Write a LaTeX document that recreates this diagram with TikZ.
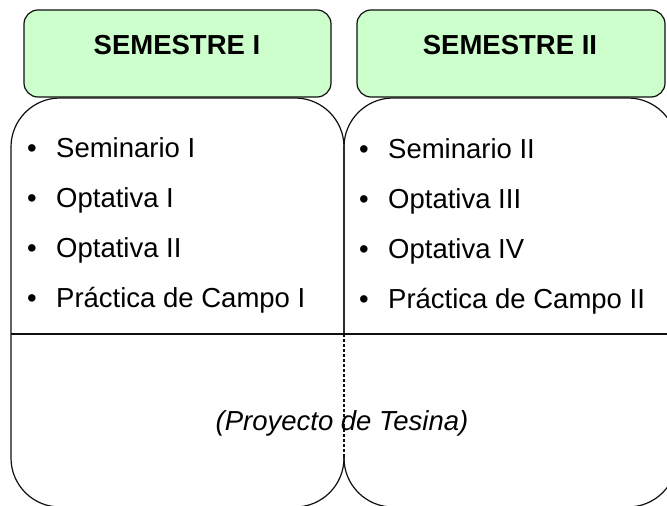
\documentclass[tikz,border=0pt]{standalone}
\usepackage{fontspec}
\setmainfont{Liberation Sans}
\definecolor{hdrgreen}{RGB}{204,255,204}
\definecolor{edge}{RGB}{15,15,15}
\tikzset{
  hdr/.style={draw=edge, fill=hdrgreen, line width=1.2pt, rounded corners=14pt},
  hdrtext/.style={font=\fontsize{27.5}{30}\selectfont\bfseries, inner sep=0pt, anchor=base},
  boxline/.style={draw=edge, line width=1.2pt, rounded corners=49pt},
  bul/.style={font=\fontsize{27.5}{30}\selectfont, inner sep=0pt, anchor=base},
  item/.style={font=\fontsize{27.5}{30}\selectfont, inner sep=0pt, anchor=base west},
  proj/.style={font=\fontsize{27.5}{30}\selectfont\itshape, inner sep=0pt, anchor=base},
}
\begin{document}
\begin{tikzpicture}[x=1pt,y=-1pt]
\useasboundingbox (0,0) rectangle (667,506);
\begin{scope}
\clip (0,0) rectangle (667,506);
% big boxes
\draw[boxline] (344,334) -- (344,98) -- (11,98) -- (11,507) -- (344,507) -- (344,455);
\draw[boxline] (344,334) -- (344,98) -- (677,98) -- (677,507) -- (344,507) -- (344,455);
\draw[draw=edge, line width=1.1pt, dash pattern=on 3pt off 2pt] (344,334) -- (344,458);
\draw[draw=edge, line width=2pt] (11,334) -- (667,334);
\end{scope}
% headers
\path[hdr] (24,10) rectangle (331,97);
\path[hdr] (357,10) rectangle (665,97);
\node[hdrtext] (h1) at (177,54) {SEMESTRE I};
\node[hdrtext] (h2) at (510,54) {SEMESTRE II};
% left column
\node[bul] (b11) at (32,157) {•};
\node[item] (s1) at (56,157) {Seminario I};
\node[bul] (b12) at (32,207) {•};
\node[item] (o1) at (56,207) {Optativa I};
\node[bul] (b13) at (32,257) {•};
\node[item] (o2) at (56,257) {Optativa II};
\node[bul] (b14) at (32,307) {•};
\node[item] (p1) at (56,307) {Práctica de Campo I};
% right column
\node[bul] (b21) at (364,158) {•};
\node[item] (s2) at (388,158) {Seminario II};
\node[bul] (b22) at (364,208) {•};
\node[item] (o3) at (388,208) {Optativa III};
\node[bul] (b23) at (364,258) {•};
\node[item] (o4) at (388,258) {Optativa IV};
\node[bul] (b24) at (364,308) {•};
\node[item] (p2) at (388,308) {Práctica de Campo II};
% project
\node[proj] (pt) at (342,430) {(Proyecto de Tesina)};
\end{tikzpicture}
\end{document}
